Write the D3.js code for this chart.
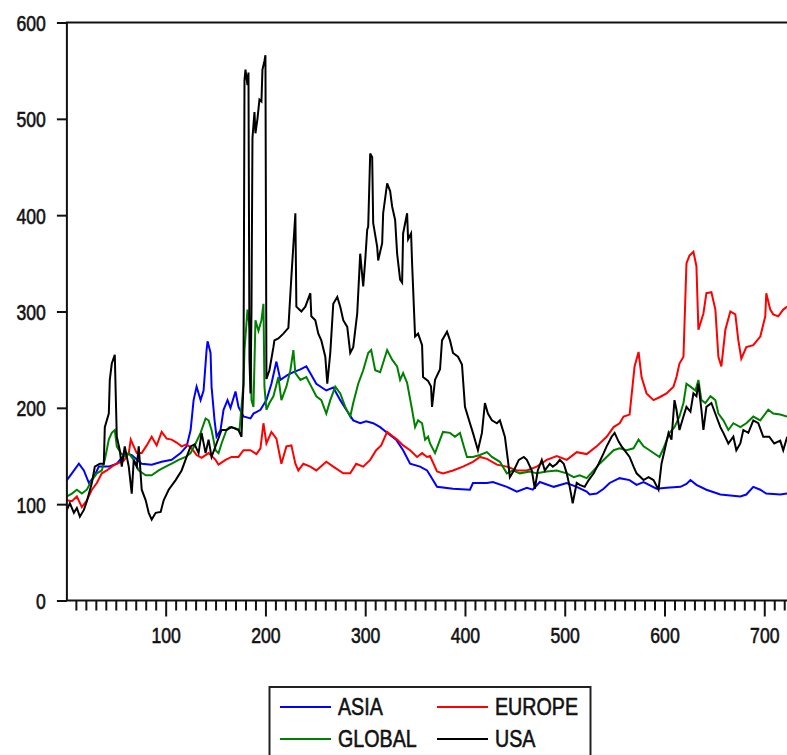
<!DOCTYPE html>
<html>
<head>
<meta charset="utf-8">
<script src="https://cdn.jsdelivr.net/npm/d3@7"></script>
<style>
  body { margin: 0; background: #fff; }
  svg { display: block; }
  text { font-family: "Liberation Sans", Arial, sans-serif; fill: #111; stroke: #111; stroke-width: 0.6px; }
</style>
</head>
<body>
<svg id="chart" width="787" height="755"></svg>
<script>
// ---- data -------------------------------------------------------------
const seriesNames  = ["ASIA", "EUROPE", "GLOBAL", "USA"];
const seriesColors = ["#0000ff", "#ff0000", "#008000", "#000000"];
const yTicks = [0, 100, 200, 300, 400, 500, 600];
const xTickLabels = [100, 200, 300, 400, 500, 600, 700];

// [observation, index value]
const asia = [[1,125],[6,132],[13,142],[18,135],[23,122],[28,128],[33,139],[43,139],[51,142],[60,153],[66,151],[76,142],[86,141],[96,144],[106,146],[115,153],[121,160],[125,177],[128,208],[131,222],[135,208],[138,218],[141,260],[142,269],[145,257],[146,222],[149,187],[151,170],[155,177],[158,198],[162,208],[165,200],[170,217],[173,201],[178,191],[185,189],[188,194],[195,198],[201,208],[206,225],[211,248],[215,229],[222,234],[228,237],[235,240],[241,243],[245,236],[251,225],[261,218],[268,221],[275,208],[281,198],[288,187],[295,184],[301,186],[308,184],[315,180],[321,175],[331,167],[338,156],[345,142],[355,139],[362,135],[365,130],[372,118],[388,116],[405,115],[408,122],[422,122],[428,123],[442,118],[452,113],[462,117],[468,115],[475,123],[489,118],[502,122],[512,118],[522,113],[525,110],[532,111],[539,116],[545,122],[555,127],[565,125],[572,120],[579,123],[592,116],[602,117],[616,118],[622,121],[626,125],[632,120],[642,115],[656,110],[676,108],[682,110],[689,118],[696,115],[702,111],[716,110],[723,111]];

const europe = [[1,104],[6,103],[11,108],[16,97],[21,104],[26,115],[31,122],[36,132],[41,135],[46,139],[51,142],[58,145],[63,153],[65,167],[68,160],[71,153],[76,153],[81,161],[86,170],[91,161],[96,175],[101,168],[106,167],[111,164],[116,160],[121,162],[126,158],[131,151],[136,148],[143,153],[150,146],[153,141],[160,146],[166,149],[173,149],[178,156],[185,156],[191,152],[195,158],[198,184],[201,163],[206,175],[211,168],[216,142],[221,160],[226,161],[230,142],[233,135],[238,142],[245,139],[251,135],[261,144],[268,139],[278,132],[285,132],[291,142],[298,139],[305,146],[311,156],[316,161],[322,175],[327,171],[332,167],[338,161],[345,156],[352,149],[357,153],[362,149],[365,150],[372,134],[378,132],[388,135],[398,139],[408,144],[415,149],[422,147],[432,141],[442,139],[452,135],[462,135],[472,139],[482,146],[492,150],[502,146],[512,154],[522,152],[532,160],[542,170],[549,180],[555,184],[559,191],[565,193],[570,243],[574,258],[577,232],[582,215],[589,208],[595,211],[602,215],[609,222],[612,232],[615,246],[619,253],[622,350],[625,358],[629,362],[632,347],[634,281],[639,298],[642,319],[647,320],[651,302],[654,253],[657,243],[661,281],[666,300],[671,297],[674,270],[677,251],[682,263],[689,265],[696,274],[701,295],[702,319],[706,302],[709,297],[714,295],[719,302],[723,305]];

const global = [[1,108],[6,111],[11,115],[16,111],[21,115],[26,125],[31,132],[36,135],[39,146],[43,167],[46,174],[49,177],[51,160],[55,153],[60,149],[63,153],[68,146],[73,135],[80,130],[86,130],[93,135],[100,139],[106,142],[113,146],[120,149],[125,153],[130,163],[135,174],[140,189],[143,187],[146,177],[150,156],[153,153],[156,163],[161,177],[164,180],[169,179],[174,177],[178,225],[179,260],[182,302],[185,277],[186,208],[188,201],[190,291],[193,280],[196,291],[198,308],[199,222],[201,198],[204,205],[208,212],[213,232],[216,208],[221,222],[225,239],[228,260],[230,236],[235,229],[241,232],[246,222],[251,212],[256,208],[261,194],[265,208],[270,222],[275,215],[280,201],[285,191],[288,205],[293,225],[298,239],[303,257],[306,260],[310,239],[315,237],[322,260],[327,250],[332,243],[335,229],[338,236],[342,226],[347,198],[350,180],[353,187],[357,184],[360,167],[363,170],[365,163],[370,153],[375,167],[378,175],[385,174],[390,170],[395,174],[398,163],[402,149],[408,149],[415,151],[422,154],[427,149],[435,144],[442,132],[448,135],[455,132],[465,134],[472,132],[482,134],[492,135],[502,132],[509,128],[515,130],[522,127],[529,135],[535,142],[542,149],[549,156],[555,158],[562,156],[569,158],[574,167],[579,160],[585,156],[595,149],[599,158],[605,174],[610,180],[615,191],[619,205],[622,225],[626,222],[631,218],[634,229],[637,208],[641,205],[646,212],[651,208],[654,194],[659,187],[664,177],[669,184],[676,180],[682,184],[689,191],[696,187],[704,198],[709,194],[716,193],[723,191]];

const usa = [[1,94],[4,101],[8,91],[11,96],[14,87],[18,94],[21,103],[26,122],[29,139],[34,142],[38,142],[39,180],[43,194],[44,229],[46,246],[49,255],[50,212],[51,170],[54,156],[56,139],[59,160],[63,139],[66,111],[68,146],[71,139],[73,160],[76,115],[80,104],[83,91],[86,84],[90,91],[95,92],[98,104],[103,115],[110,125],[116,135],[121,149],[125,160],[129,162],[133,153],[136,174],[140,153],[143,167],[146,149],[151,163],[156,177],[161,177],[166,180],[173,177],[176,170],[178,225],[179,540],[180,551],[182,535],[183,548],[184,250],[185,215],[186,300],[187,480],[189,507],[190,485],[192,500],[194,520],[196,518],[197,551],[199,560],[200,566],[201,230],[204,239],[208,263],[209,270],[213,272],[218,277],[223,283],[226,336],[230,402],[231,305],[236,300],[240,305],[245,319],[246,295],[250,291],[253,277],[256,270],[260,253],[262,225],[265,257],[268,308],[272,315],[275,305],[278,291],[282,284],[285,257],[288,263],[292,298],[295,360],[298,326],[300,353],[302,385],[303,388],[305,464],[307,460],[308,392],[312,367],[313,353],[317,371],[318,402],[322,433],[325,425],[327,409],[330,395],[332,360],[335,333],[337,330],[338,381],[342,402],[343,375],[346,381],[347,350],[350,274],[353,277],[357,265],[358,232],[363,228],[366,222],[367,201],[370,229],[375,240],[377,270],[382,279],[385,270],[388,257],[393,253],[397,245],[400,201],[405,184],[408,174],[413,156],[417,174],[420,205],[423,194],[427,187],[432,184],[435,187],[440,170],[443,146],[445,128],[449,135],[454,146],[459,149],[462,146],[467,135],[470,116],[473,135],[477,146],[480,135],[485,142],[488,139],[492,142],[495,146],[499,142],[502,132],[505,118],[508,101],[512,122],[515,120],[520,118],[524,125],[529,132],[534,142],[539,153],[542,160],[547,170],[550,174],[554,165],[557,160],[565,149],[569,139],[572,132],[579,125],[584,128],[589,125],[594,115],[597,142],[601,160],[604,174],[607,167],[610,208],[612,198],[615,177],[619,191],[622,201],[626,196],[629,215],[632,212],[634,225],[637,198],[639,177],[642,201],[647,205],[652,191],[656,180],[659,174],[664,163],[669,170],[672,156],[676,163],[679,177],[684,174],[689,187],[694,184],[699,170],[705,170],[710,163],[716,166],[719,156],[723,170]];

const seriesData = [asia, europe, global, usa];

// ---- layout -------------------------------------------------------------
const svg = d3.select("#chart");
const W = 787, H = 755;
svg.append("rect").attr("width", W).attr("height", H).attr("fill", "#fff");

const x = d3.scaleLinear().domain([1, 730]).range([66.9, 794.2]);
const y = d3.scaleLinear().domain([0, 600]).range([600.5, 22.5]);

const plotLeft = x.range()[0], plotRight = x.range()[1];
const plotTop = y.range()[1], plotBottom = y.range()[0];

svg.append("defs").append("clipPath").attr("id", "plot-clip")
  .append("rect")
  .attr("x", plotLeft).attr("y", plotTop)
  .attr("width", plotRight - plotLeft).attr("height", plotBottom - plotTop);

// series lines
const line = d3.line().x(d => x(d[0])).y(d => y(d[1]));
const lines = svg.append("g").attr("clip-path", "url(#plot-clip)");
seriesData.forEach((data, i) => {
  lines.append("path")
    .datum(data)
    .attr("d", line)
    .attr("fill", "none")
    .attr("stroke", seriesColors[i])
    .attr("stroke-width", 2)
    .attr("stroke-linejoin", "miter")
    .attr("stroke-linecap", "butt");
});

// frame
svg.append("rect")
  .attr("x", plotLeft).attr("y", plotTop)
  .attr("width", plotRight - plotLeft).attr("height", plotBottom - plotTop)
  .attr("fill", "none").attr("stroke", "#111").attr("stroke-width", 2);

// y axis
const yAxis = svg.append("g")
  .attr("transform", `translate(${plotLeft},0)`)
  .call(d3.axisLeft(y).tickValues(yTicks).tickSize(10).tickSizeOuter(0).tickFormat(d3.format("d")));
yAxis.select(".domain").remove();
yAxis.selectAll(".tick line").attr("stroke", "#111").attr("stroke-width", 2);
yAxis.selectAll(".tick text")
  .attr("x", 0).attr("dy", null).attr("y", 8)
  .attr("transform", "translate(-21,0) scale(0.8,1)")
  .style("font-size", "22px").attr("fill", "#111");

// x axis: minor ticks every 10 observations
const minorTicks = d3.range(10, 730, 10).filter(v => v % 100 !== 0);
const xMinor = svg.append("g")
  .attr("transform", `translate(0,${plotBottom})`)
  .call(d3.axisBottom(x).tickValues(minorTicks).tickSize(10).tickSizeOuter(0).tickFormat(""));
xMinor.select(".domain").remove();
xMinor.selectAll(".tick line").attr("stroke", "#111").attr("stroke-width", 2);

// x axis: major ticks with labels
const xMajor = svg.append("g")
  .attr("transform", `translate(0,${plotBottom})`)
  .call(d3.axisBottom(x).tickValues(xTickLabels).tickSize(16).tickSizeOuter(0).tickFormat(d3.format("d")));
xMajor.select(".domain").remove();
xMajor.selectAll(".tick line").attr("stroke", "#111").attr("stroke-width", 2);
xMajor.selectAll(".tick text")
  .attr("y", 0).attr("dy", null)
  .attr("transform", "translate(0,42) scale(0.8,1)")
  .style("font-size", "22px").attr("fill", "#111");

// legend
const legend = svg.append("g");
legend.append("rect")
  .attr("x", 269.5).attr("y", 687)
  .attr("width", 321).attr("height", 120)
  .attr("fill", "#fff").attr("stroke", "#222").attr("stroke-width", 2);

const colX = [280, 437];
const rowY = [707, 739];
seriesNames.forEach((name, i) => {
  const cx = colX[i % 2], cy = rowY[Math.floor(i / 2)];
  const g = legend.append("g");
  g.append("line")
    .attr("x1", cx).attr("x2", cx + 51)
    .attr("y1", cy).attr("y2", cy)
    .attr("stroke", seriesColors[i]).attr("stroke-width", 2);
  g.append("text")
    .attr("transform", `translate(${cx + 58},${cy + 8}) scale(0.82,1)`)
    .style("font-size", "24px")
    .text(name);
});
</script>
</body>
</html>
